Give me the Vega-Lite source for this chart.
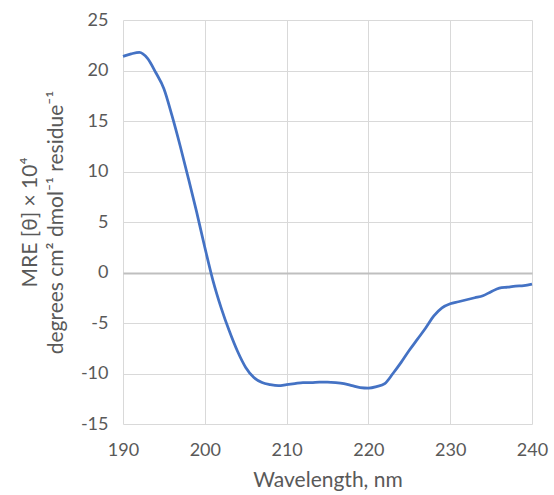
{
  "$schema": "https://vega.github.io/schema/vega-lite/v6.json",
  "autosize": "none",
  "width": 409,
  "height": 404,
  "padding": {"left": 123, "top": 20, "right": 22, "bottom": 71},
  "config": {
    "view": {"stroke": null},
    "font": "Lato",
    "axis": {
      "labelColor": "#595959",
      "titleColor": "#595959",
      "labelFont": "Lato",
      "titleFont": "Lato",
      "labelFontSize": 18,
      "titleFontSize": 21,
      "titleFontWeight": "normal",
      "domain": false,
      "ticks": false,
      "labelFlush": false,
      "gridColor": "#d9d9d9",
      "gridWidth": 1
    }
  },
  "data": {
    "values": [
      {"wl": 190, "mre": 21.4},
      {"wl": 191, "mre": 21.65},
      {"wl": 192, "mre": 21.8},
      {"wl": 193, "mre": 21.2},
      {"wl": 194, "mre": 19.8},
      {"wl": 195, "mre": 18.2},
      {"wl": 196, "mre": 15.5},
      {"wl": 197, "mre": 12.5},
      {"wl": 198, "mre": 9.3},
      {"wl": 199, "mre": 6.0},
      {"wl": 200, "mre": 2.5},
      {"wl": 201, "mre": -0.8},
      {"wl": 202, "mre": -3.5},
      {"wl": 203, "mre": -5.8},
      {"wl": 204, "mre": -7.8},
      {"wl": 205, "mre": -9.4},
      {"wl": 206, "mre": -10.4},
      {"wl": 207, "mre": -10.9},
      {"wl": 208, "mre": -11.1},
      {"wl": 209, "mre": -11.2},
      {"wl": 210, "mre": -11.1},
      {"wl": 211, "mre": -11.0},
      {"wl": 212, "mre": -10.9},
      {"wl": 213, "mre": -10.9},
      {"wl": 214, "mre": -10.85},
      {"wl": 215, "mre": -10.85},
      {"wl": 216, "mre": -10.9},
      {"wl": 217, "mre": -11.0},
      {"wl": 218, "mre": -11.2},
      {"wl": 219, "mre": -11.4},
      {"wl": 220, "mre": -11.45},
      {"wl": 221, "mre": -11.3},
      {"wl": 222, "mre": -11.0},
      {"wl": 223, "mre": -10.0},
      {"wl": 224, "mre": -8.9},
      {"wl": 225, "mre": -7.7},
      {"wl": 226, "mre": -6.6},
      {"wl": 227, "mre": -5.5},
      {"wl": 228, "mre": -4.3},
      {"wl": 229, "mre": -3.5},
      {"wl": 230, "mre": -3.1},
      {"wl": 231, "mre": -2.9},
      {"wl": 232, "mre": -2.7},
      {"wl": 233, "mre": -2.5},
      {"wl": 234, "mre": -2.3},
      {"wl": 235, "mre": -1.9},
      {"wl": 236, "mre": -1.55},
      {"wl": 237, "mre": -1.45},
      {"wl": 238, "mre": -1.35},
      {"wl": 239, "mre": -1.3},
      {"wl": 240, "mre": -1.15}
    ]
  },
  "mark": {"type": "line", "color": "#4472C4", "strokeWidth": 2.75, "interpolate": "monotone"},
  "encoding": {
    "x": {
      "field": "wl",
      "type": "quantitative",
      "scale": {"domain": [190, 240], "nice": false, "zero": false},
      "axis": {"values": [190, 200, 210, 220, 230, 240], "title": "Wavelength, nm", "labelPadding": 17, "titlePadding": 10}
    },
    "y": {
      "field": "mre",
      "type": "quantitative",
      "scale": {"domain": [-15, 25], "nice": false},
      "axis": {
        "values": [-15, -10, -5, 0, 5, 10, 15, 20, 25],
        "labelExpr": "replace(datum.label, '−', '-')",
        "title": ["MRE [θ] × 10⁴", "degrees cm² dmol⁻¹ residue⁻¹"],
        "titleLineHeight": 26,
        "labelPadding": 15,
        "titlePadding": 14,
        "gridColor": {"condition": {"test": "datum.value === 0", "value": "#bfbfbf"}, "value": "#d9d9d9"},
        "gridWidth": {"condition": {"test": "datum.value === 0", "value": 2}, "value": 1}
      }
    }
  }
}
